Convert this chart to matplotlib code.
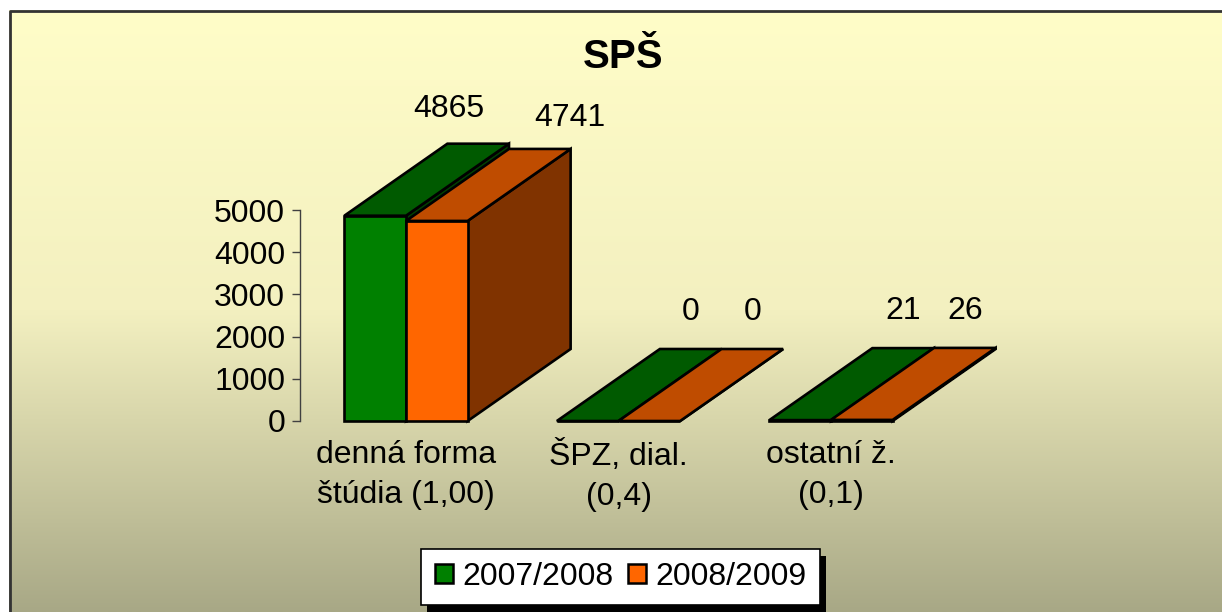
import numpy as np
import matplotlib
matplotlib.use('Agg')
import matplotlib.pyplot as plt
from matplotlib.patches import Polygon, Rectangle, Patch
from matplotlib.colors import LinearSegmentedColormap
from matplotlib.transforms import IdentityTransform

plt.rcParams['font.family'] = ['Liberation Sans', 'DejaVu Sans']

# Data
categories = ['denná forma\nštúdia (1,00)', 'ŠPZ, dial.\n(0,4)', 'ostatní ž.\n(0,1)']
series_names = ['2007/2008', '2008/2009']
values_0708 = [4865, 0, 21]
values_0809 = [4741, 0, 26]
y_ticks = [0, 1000, 2000, 3000, 4000, 5000]

W, H = 1222, 612
FS = 23
fig = plt.figure(figsize=(W / 100, H / 100), dpi=100)

# background gradient + frame (pixel coords)
bg = fig.add_axes([0, 0, 1, 1])
grad = np.linspace(0, 1, 256)[:, None]
cmap = LinearSegmentedColormap.from_list('bg', ['#FFFDC8', '#F3F0C0', '#A8A886'], N=256)
bg.imshow(grad, extent=[9, W, H, 10], cmap=cmap, aspect='auto', origin='upper')
bg.plot([9.5, 9.5, W], [H, 10.5, 10.5], color='#333333', lw=2)
bg.set_xlim(0, W)
bg.set_ylim(H, 0)
bg.axis('off')

# main axes: y 0 -> px 421, 5000 -> px 210
ax = fig.add_axes([299.75 / W, (H - 421) / H, 637.5 / W, 211 / H])
ax.set_facecolor('none')
ax.set_xlim(-0.5, 2.5)
ax.set_ylim(0, 5000)
for s in ['top', 'right', 'bottom']:
    ax.spines[s].set_visible(False)
ax.spines['left'].set_color('#404040')
ax.spines['left'].set_linewidth(1)
ax.set_yticks(y_ticks)
ax.tick_params(axis='y', length=6, width=1, color='#404040', pad=4.5, labelsize=FS)
ax.set_xticks(range(len(categories)))
ax.set_xticklabels(categories)
ax.tick_params(axis='x', length=0, pad=14, labelsize=FS)
for lbl in ax.get_xticklabels():
    lbl.set_linespacing(1.4)

# 3D boxes, drawn from data positions with a fixed pixel depth
bar_w = 0.29
dx, dy = 103, 72
series = [
    (values_0708, -bar_w, '#008000', '#005A00', '#004000'),
    (values_0809, 0.0, '#FF6600', '#BF4C00', '#803300'),
]
to_px = ax.transData.transform
renderer = fig.canvas.get_renderer()
for i in range(len(categories)):
    labels = []
    for vals, off, c_front, c_top, c_side in series:
        x0 = i + off
        x1 = x0 + bar_w
        (px0, py0), (px1, py1) = to_px([(x0, 0), (x1, vals[i])])
        front = [(px0, py0), (px1, py0), (px1, py1), (px0, py1)]
        top = [(px0, py1), (px1, py1), (px1 + dx, py1 + dy), (px0 + dx, py1 + dy)]
        side = [(px1, py0), (px1 + dx, py0 + dy), (px1 + dx, py1 + dy), (px1, py1)]
        for poly, c in ((side, c_side), (front, c_front), (top, c_top)):
            ax.add_patch(Polygon(poly, closed=True, fc=c, ec='black', lw=1.9,
                                 joinstyle='miter', transform=IdentityTransform(),
                                 clip_on=False))
        t = ax.text((px0 + px1) / 2 + dx, py1 + dy + 37, str(vals[i]), fontsize=FS,
                    ha='center', va='center', transform=IdentityTransform())
        labels.append(t)
    # push overlapping value labels apart, like the spreadsheet does
    b0 = labels[0].get_window_extent(renderer)
    b1 = labels[1].get_window_extent(renderer)
    if b0.x1 + 10 > b1.x0:
        shift = (b0.x1 + 50 - b1.x0) / 2
        x, y = labels[0].get_position()
        labels[0].set_position((x - shift, y - 2))
        x, y = labels[1].get_position()
        labels[1].set_position((x + shift, y - 6))

# title
fig.text(623 / W, 1 - 57 / H, 'SPŠ', fontsize=29, fontweight='bold',
         ha='center', va='center')

# legend with hard black shadow
handles = [Patch(fc='#008000', ec='black', lw=1.8), Patch(fc='#FF6600', ec='black', lw=1.8)]
leg = fig.legend(handles, series_names, loc='center',
                 bbox_to_anchor=(620.5 / W, (H - 577) / H), ncol=2, fontsize=FS,
                 frameon=True, fancybox=False, edgecolor='black', facecolor='white',
                 framealpha=1, borderpad=0.42, handlelength=0.56, handleheight=0.56,
                 handletextpad=0.3, columnspacing=0.45, borderaxespad=0)
leg.get_frame().set_linewidth(1.2)
fig.canvas.draw()
bb = leg.get_window_extent()
fig.add_artist(Rectangle((bb.x0 + 6, bb.y0 - 7), bb.width, bb.height, fc='black',
                         ec='none', transform=IdentityTransform(), zorder=4.9))

fig.savefig('out.png', dpi=100)
